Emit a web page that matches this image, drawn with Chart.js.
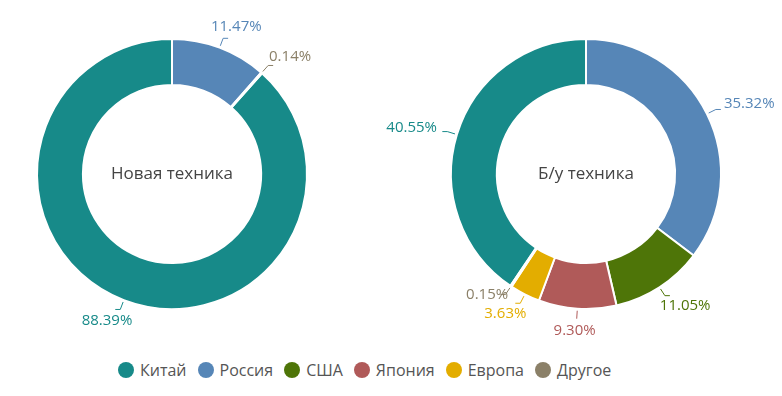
<!DOCTYPE html>
<html>
<head>
<meta charset="utf-8">
<script src="https://cdn.jsdelivr.net/npm/chart.js@4.4.0/dist/chart.umd.min.js"></script>
<style>
  html, body { margin: 0; padding: 0; background: #fff; overflow: hidden; }
  #wrap { position: relative; width: 782px; height: 396px; }
  .box { position: absolute; top: 4px; width: 400px; height: 340px; }
  #legend { position: absolute; left: 118px; top: 359px; display: flex;
    font-family: "Open Sans", sans-serif; font-size: 16px; color: #555; }
  #legend span { display: inline-flex; align-items: center; margin-right: 11px; }
  #legend i { display: inline-block; width: 16px; height: 16px; border-radius: 50%; margin-right: 6px; }
</style>
</head>
<body>
<div id="wrap">
  <div class="box" style="left:-28px"><canvas id="newChart"></canvas></div>
  <div class="box" style="left:386px"><canvas id="usedChart"></canvas></div>
  <div id="legend"></div>
</div>
<script>
const categories = ["Китай", "Россия", "США", "Япония", "Европа", "Другое"];
const newValues = [88.39, 11.47, 0, 0, 0, 0.14];
const usedValues = [40.55, 35.32, 11.05, 9.30, 3.63, 0.15];
const centerTitles = ["Новая техника", "Б/у техника"];
const colors = ["#178a89", "#5686b7", "#4e7508", "#b05a59", "#e3ad00", "#8b8068"];

// callout labels with short leader lines
const calloutPlugin = {
  id: "callouts",
  afterDatasetsDraw(chart) {
    const ctx = chart.ctx;
    const meta = chart.getDatasetMeta(0);
    const values = chart.data.datasets[0].data;
    const placed = [];
    ctx.save();
    ctx.font = "15px 'Open Sans', sans-serif";
    ctx.textAlign = "center";
    ctx.textBaseline = "middle";
    meta.data.forEach((arc, i) => {
      if (!values[i]) return;
      const p = arc.getProps(["x", "y", "startAngle", "endAngle", "outerRadius"], true);
      const mid = (p.startAngle + p.endAngle) / 2;
      const c = Math.cos(mid), s = Math.sin(mid);
      const R = p.outerRadius;
      const text = values[i].toFixed(2) + "%";
      const w = ctx.measureText(text).width;

      // leader line
      const x1 = p.x + c * (R + 2), y1 = p.y + s * (R + 2);
      const x2 = p.x + c * (R + 10), y2 = p.y + s * (R + 10);
      ctx.strokeStyle = colors[i];
      ctx.lineWidth = 1;
      ctx.beginPath();
      ctx.moveTo(x1, y1);
      ctx.lineTo(x2, y2);
      if (Math.abs(c) > 0.3) ctx.lineTo(x2 + (c > 0 ? 5 : -5), y2);
      ctx.stroke();

      let tx = p.x + c * (R + 22) + c * w / 2;
      let ty = p.y + s * (R + 22);
      // simple overlap push
      placed.forEach(b => {
        if (Math.abs(tx - b.x) < (w + b.w) / 2 && Math.abs(ty - b.y) < 17) {
          ty = ty < b.y ? b.y - 19 : b.y + 19;
        }
      });
      placed.push({ x: tx, y: ty, w: w });
      ctx.fillStyle = colors[i];
      ctx.fillText(text, tx, ty);
    });
    ctx.restore();
  }
};

const centerPlugin = {
  id: "centerText",
  afterDraw(chart) {
    const arc = chart.getDatasetMeta(0).data[0];
    if (!arc) return;
    const ctx = chart.ctx;
    ctx.save();
    ctx.font = "17px 'Open Sans', sans-serif";
    ctx.fillStyle = "#444";
    ctx.textAlign = "center";
    ctx.textBaseline = "middle";
    ctx.fillText(chart.options.plugins.centerText.text, arc.x, arc.y);
    ctx.restore();
  }
};

function makeChart(id, values, title) {
  const total = values.reduce((a, b) => a + b, 0);
  return new Chart(document.getElementById(id), {
    type: "doughnut",
    data: {
      labels: categories,
      datasets: [{
        data: values,
        backgroundColor: colors,
        borderColor: "#fff",
        borderWidth: 2,
        hoverOffset: 0
      }]
    },
    options: {
      responsive: false,
      animation: false,
      cutout: "66%",
      rotation: -values[0] / total * 360,
      layout: { padding: { left: 64, right: 64, top: 34, bottom: 34 } },
      plugins: {
        legend: { display: false },
        tooltip: { enabled: false },
        centerText: { text: title }
      }
    },
    plugins: [calloutPlugin, centerPlugin]
  });
}

document.querySelectorAll("canvas").forEach(c => { c.width = 400; c.height = 340; });
makeChart("newChart", newValues, centerTitles[0]);
makeChart("usedChart", usedValues, centerTitles[1]);

const legend = document.getElementById("legend");
categories.forEach((name, i) => {
  const item = document.createElement("span");
  item.innerHTML = `<i style="background:${colors[i]}"></i>${name}`;
  legend.appendChild(item);
});
</script>
</body>
</html>
